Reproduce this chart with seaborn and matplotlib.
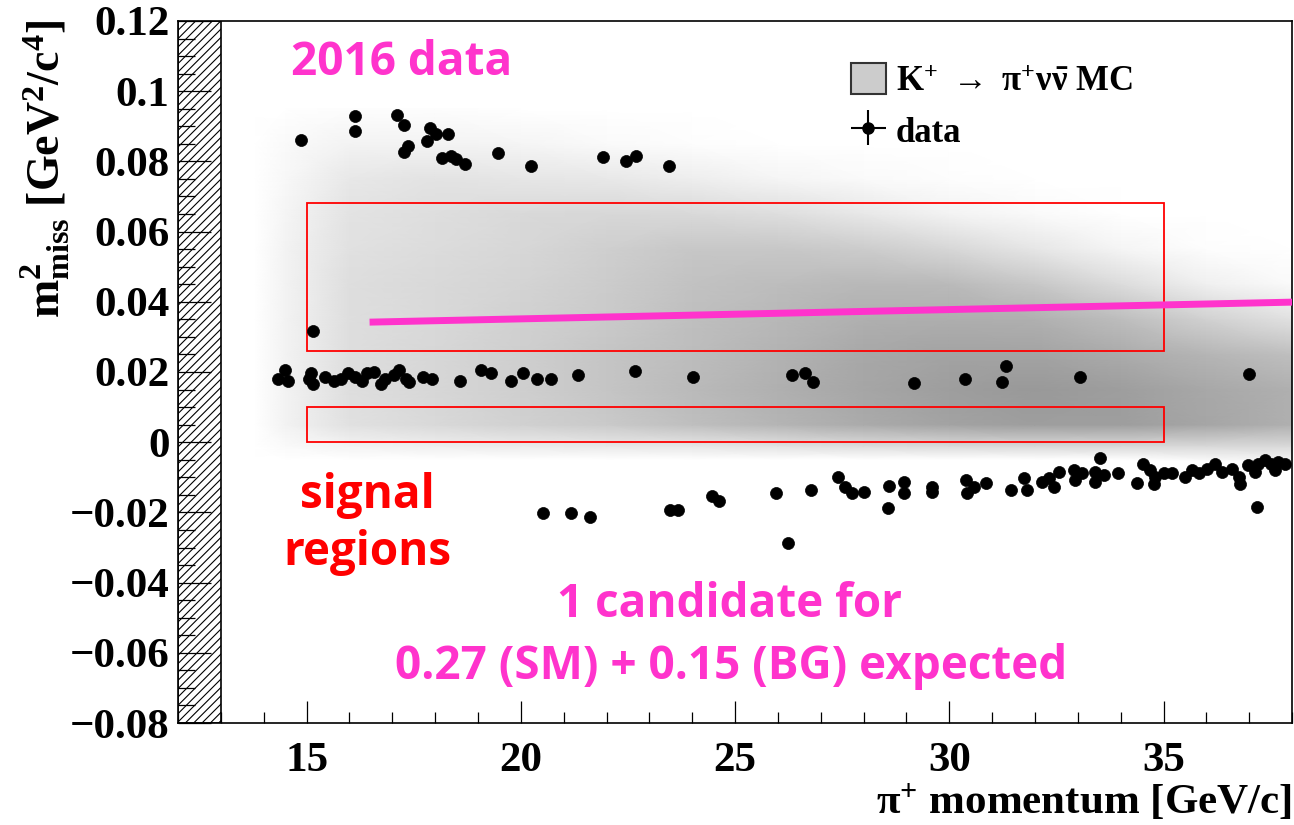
import numpy as np
import pandas as pd
import seaborn as sns
import matplotlib.pyplot as plt
from matplotlib.patches import Rectangle, Patch
from matplotlib.ticker import MultipleLocator

# ---- data ----
# data events: pi+ momentum [GeV/c] and m2_miss [GeV^2/c^4]
upper_p = [14.86, 16.14, 16.14, 17.10, 17.27, 17.37, 17.27, 17.87, 18.03, 17.80, 18.31,
           18.15, 18.36, 18.49, 18.70, 19.46, 20.24, 21.91, 22.46, 22.69, 23.46]
upper_m2 = [0.0862, 0.0930, 0.0887, 0.0931, 0.0905, 0.0844, 0.0827, 0.0894, 0.0877, 0.0858, 0.0877,
            0.0810, 0.0815, 0.0806, 0.0792, 0.0823, 0.0788, 0.0813, 0.0801, 0.0815, 0.0788]

candidate_p = [15.16]
candidate_m2 = [0.0317]

band_p = [14.33, 14.49, 14.57, 15.06, 15.10, 15.14, 15.43, 15.63, 15.80, 15.96, 16.13, 16.29,
          16.41, 16.58, 16.74, 16.82, 17.03, 17.15, 17.31, 17.39, 17.72, 17.93, 18.58, 19.07,
          19.31, 19.76, 20.05, 20.38, 20.71, 21.34, 22.67, 24.02, 26.34, 26.63, 26.83, 29.17,
          30.36, 31.32, 31.22, 33.06, 37.00]
band_m2 = [0.0181, 0.0206, 0.0175, 0.0181, 0.0196, 0.0166, 0.0186, 0.0175, 0.0181, 0.0196, 0.0186, 0.0175,
           0.0196, 0.0201, 0.0166, 0.0181, 0.0191, 0.0206, 0.0181, 0.0171, 0.0186, 0.0181, 0.0175, 0.0206,
           0.0196, 0.0175, 0.0196, 0.0181, 0.0181, 0.0191, 0.0203, 0.0186, 0.0191, 0.0196, 0.0172, 0.0169,
           0.0181, 0.0217, 0.0172, 0.0186, 0.0194]

lower_p = [20.52, 21.16, 21.62, 23.48, 23.66, 24.47, 24.63, 25.95, 26.24, 26.78, 27.41, 27.56,
           27.73, 28.01, 28.59, 28.57, 28.94, 28.94, 29.60, 29.60, 30.38, 30.57, 30.42, 30.86,
           31.45, 31.74, 31.81, 32.16, 32.32, 32.44, 32.55, 32.90, 32.94, 33.10, 33.41, 33.52,
           33.60, 33.41, 33.93, 34.38, 34.53, 34.69, 34.81, 34.77, 35.00, 35.19, 35.51, 35.66,
           35.82, 36.01, 36.21, 36.36, 36.59, 36.75, 36.79, 36.98, 37.18, 37.21, 37.37, 37.52,
           37.68, 37.84, 37.14, 37.60]
lower_m2 = [-0.0203, -0.0203, -0.0213, -0.0192, -0.0192, -0.0154, -0.0167, -0.0144, -0.0287, -0.0137,
            -0.0099, -0.0129, -0.0144, -0.0142, -0.0125, -0.0187, -0.0113, -0.0146, -0.0127, -0.0142,
            -0.0108, -0.0127, -0.0146, -0.0116, -0.0135, -0.0101, -0.0137, -0.0113, -0.0103, -0.0127,
            -0.0085, -0.0078, -0.0108, -0.0089, -0.0085, -0.0046, -0.0094, -0.0113, -0.0089, -0.0116,
            -0.0061, -0.0080, -0.0099, -0.0118, -0.0089, -0.0089, -0.0099, -0.0080, -0.0089, -0.0075,
            -0.0061, -0.0085, -0.0075, -0.0099, -0.0118, -0.0066, -0.0184, -0.0061, -0.0051, -0.0061,
            -0.0056, -0.0061, -0.0085, -0.0080]

# K+ -> pi+ nu nubar MC density (darkness in %), rows = mc_m2, columns = mc_p
mc_p = [13.8, 14.5, 16, 18, 20, 22, 24, 26, 28, 30, 32, 34, 36, 38]
mc_m2 = [-0.005, -0.001, 0.005, 0.015, 0.025, 0.035, 0.045, 0.055, 0.065, 0.075, 0.085, 0.095]
mc_dark = [
    [0, 0, 0, 0, 0, 0, 0, 0, 0, 0, 0, 0, 3, 5],
    [0, 2, 5, 7, 8, 9, 10, 12, 14, 15, 16, 16, 16, 15],
    [0, 5, 12, 15, 18, 21, 25, 29, 33, 36, 38, 38, 35, 31],
    [0, 5, 13, 16, 19, 23, 27, 31, 35, 38, 40, 38, 34, 31],
    [0, 5, 13, 16, 19, 23, 26, 30, 34, 36, 36, 33, 29, 25],
    [0, 5, 13, 15, 18, 21, 25, 28, 31, 32, 31, 26, 18, 12],
    [0, 5, 13, 15, 17, 20, 24, 26, 28, 27, 22, 14, 6, 2],
    [0, 5, 12, 14, 16, 19, 22, 22, 20, 16, 10, 4, 1, 0],
    [0, 4, 11, 13, 15, 16, 15, 13, 9, 5, 2, 0, 0, 0],
    [0, 3, 9, 11, 10, 9, 7, 4, 2, 1, 0, 0, 0, 0],
    [0, 2, 5, 5, 4, 2, 1, 0, 0, 0, 0, 0, 0, 0],
    [0, 0, 1, 1, 0, 0, 0, 0, 0, 0, 0, 0, 0, 0],
]

# signal regions: (p_min, p_max, m2_min, m2_max)
signal_regions = [(15, 35, 0.0, 0.010), (15, 35, 0.026, 0.068)]

# kinematic line drawn across region 1
line_p = [16.47, 38.0]
line_m2 = [0.0342, 0.0399]

y_ticks = [-0.08, -0.06, -0.04, -0.02, 0, 0.02, 0.04, 0.06, 0.08, 0.1, 0.12]
y_labels = ['\u22120.08', '\u22120.06', '\u22120.04', '\u22120.02', '0', '0.02',
            '0.04', '0.06', '0.08', '0.1', '0.12']
x_ticks = [15, 20, 25, 30, 35]

MAGENTA = '#FF33CC'
RED = '#FF0000'

sns.set_style('white')
plt.rcParams['font.family'] = ['Liberation Serif', 'DejaVu Serif']
plt.rcParams['font.weight'] = 'bold'
plt.rcParams['text.color'] = 'black'
plt.rcParams['axes.labelcolor'] = 'black'
plt.rcParams['xtick.color'] = 'black'
plt.rcParams['ytick.color'] = 'black'
plt.rcParams['mathtext.fontset'] = 'custom'
plt.rcParams['mathtext.rm'] = 'Liberation Serif:bold'
plt.rcParams['mathtext.bf'] = 'Liberation Serif:bold'
plt.rcParams['mathtext.it'] = 'Liberation Serif:italic:bold'
plt.rcParams['mathtext.default'] = 'rm'
plt.rcParams['hatch.linewidth'] = 0.8

fig = plt.figure(figsize=(12.94, 8.25), dpi=100)
ax = fig.add_axes([0.1376, 0.1236, 0.8609, 0.851])
ax.set_axisbelow(False)

# MC density
P, M = np.meshgrid(mc_p, mc_m2)
ax.pcolormesh(P, M, np.array(mc_dark, dtype=float), shading='gouraud',
              cmap='gray_r', vmin=0, vmax=100, zorder=0)

# data points
df = pd.DataFrame({
    'p': upper_p + candidate_p + band_p + lower_p,
    'm2': upper_m2 + candidate_m2 + band_m2 + lower_m2,
})
sns.scatterplot(data=df, x='p', y='m2', ax=ax, color='black', s=75,
                edgecolor='black', linewidth=0.5, zorder=4, legend=False)

# signal region boxes
for x0, x1, y0, y1 in signal_regions:
    ax.add_patch(Rectangle((x0, y0), x1 - x0, y1 - y0, fill=False,
                           edgecolor=RED, lw=1.3, zorder=3))

ax.plot(line_p, line_m2, color=MAGENTA, lw=5, solid_capstyle='butt', zorder=5)

# hatched excluded region (ticks drawn over it)
ax.add_patch(Rectangle((12, -0.08), 1, 0.2, facecolor='white', edgecolor='black',
                       hatch='////', lw=1.2, zorder=1))

ax.set_xlim(12, 38)
ax.set_ylim(-0.08, 0.12)
ax.set_xticks(x_ticks)
ax.set_xticklabels([str(t) for t in x_ticks])
ax.set_yticks(y_ticks)
ax.set_yticklabels(y_labels)
ax.xaxis.set_minor_locator(MultipleLocator(1))
ax.yaxis.set_minor_locator(MultipleLocator(0.005))
ax.tick_params(axis='x', which='major', direction='in', length=16, width=0.9,
               labelsize=31, pad=14)
ax.tick_params(axis='x', which='minor', direction='in', length=8, width=0.9)
ax.tick_params(axis='y', which='major', direction='in', length=24, width=0.9,
               labelsize=31, pad=6)
ax.tick_params(axis='y', which='minor', direction='in', length=12, width=0.9)
ax.tick_params(bottom=True, left=True, top=False, right=False, which='both')
for sp in ax.spines.values():
    sp.set_color('black')
    sp.set_linewidth(1.2)

ax.set_ylabel('')
ax.set_xlabel(r'$\pi^{+}$ momentum [GeV/c]', fontsize=31, fontweight='bold', loc='right')
ax.xaxis.set_label_coords(1.0, -0.085)
fig.text(0.035, 0.976, r'$\mathrm{m^{2}_{miss}}$ [GeV$^{2}$/c$^{4}$]', rotation=90,
         ha='center', va='top', fontsize=33, fontweight='bold')

# legend
mc_handle = Patch(facecolor='#cccccc', edgecolor='#333333', lw=1.5)
data_handle = ax.errorbar([np.nan], [np.nan], xerr=[1], yerr=[1], fmt='o', color='black',
                          ms=8, elinewidth=1.5, capsize=0)
ax.legend([mc_handle, data_handle],
          [r'$\mathrm{K^{+}}\ \rightarrow\ \pi^{+}\nu\bar{\nu}$ MC', 'data'],
          loc='upper left', bbox_to_anchor=(0.604, 0.94), frameon=False,
          prop={'family': 'Liberation Serif', 'weight': 'bold', 'size': 25},
          handlelength=1.0, handleheight=1.0, handletextpad=0.3, labelspacing=0.45,
          borderpad=0, borderaxespad=0)

# annotations
anno = dict(family='Open Sans', weight='bold', fontsize=33, ha='center', va='baseline')
ax.text(17.21, 0.1046, '2016 data', color=MAGENTA, **anno)
ax.text(16.42, -0.0188, 'signal', color=RED, **anno)
ax.text(16.42, -0.0350, 'regions', color=RED, **anno)
ax.text(24.86, -0.0499, '1 candidate for', color=MAGENTA, **anno)
ax.text(24.90, -0.0675, '0.27 (SM) + 0.15 (BG) expected', color=MAGENTA, **anno)

fig.savefig('out.png', dpi=100)
